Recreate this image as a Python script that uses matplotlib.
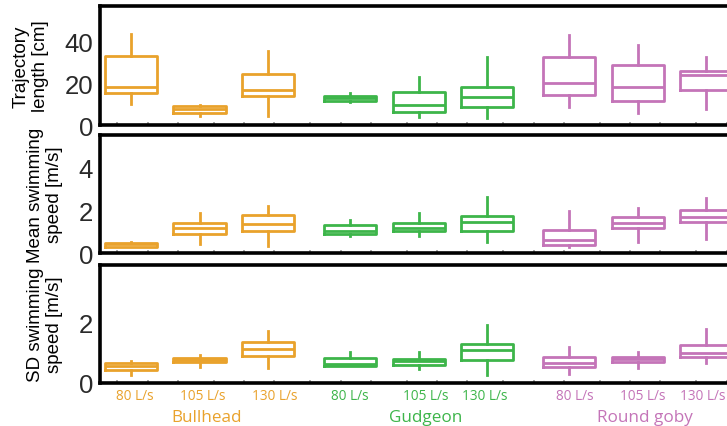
import matplotlib
matplotlib.use('Agg')
import matplotlib.pyplot as plt
import numpy as np

species = ['Bullhead', 'Gudgeon', 'Round goby']
flows = ['80 L/s', '105 L/s', '130 L/s']
colors = ['#E9A22C', '#3DB54A', '#C474B8']

# per box: [whisker low, q1, median, q3, whisker high]
# order: Bullhead 80/105/130, Gudgeon 80/105/130, Round goby 80/105/130
trajectory = [
    [10.0, 15.1, 18.4, 33.0, 43.7],
    [4.3, 5.9, 7.5, 9.2, 9.7],
    [4.1, 14.0, 16.7, 24.3, 35.4],
    [10.8, 11.6, 12.9, 14.0, 15.1],
    [3.8, 6.4, 9.8, 15.7, 23.2],
    [3.2, 8.4, 13.5, 18.4, 32.7],
    [8.7, 14.4, 20.2, 32.5, 42.9],
    [5.7, 11.6, 18.4, 28.9, 38.4],
    [7.6, 16.8, 24.0, 26.0, 32.7],
]
mean_speed = [
    [0.28, 0.30, 0.40, 0.49, 0.53],
    [0.41, 0.89, 1.19, 1.41, 1.88],
    [0.35, 1.05, 1.38, 1.79, 2.20],
    [0.82, 0.88, 1.05, 1.30, 1.57],
    [0.78, 1.05, 1.19, 1.41, 1.90],
    [0.50, 1.05, 1.46, 1.76, 2.62],
    [0.28, 0.36, 0.61, 1.10, 1.96],
    [0.52, 1.18, 1.41, 1.68, 2.12],
    [0.64, 1.44, 1.71, 2.04, 2.60],
]
sd_speed = [
    [0.27, 0.44, 0.56, 0.67, 0.74],
    [0.54, 0.69, 0.77, 0.84, 0.94],
    [0.50, 0.89, 1.12, 1.37, 1.72],
    [0.56, 0.58, 0.62, 0.82, 1.03],
    [0.46, 0.60, 0.72, 0.81, 1.02],
    [0.28, 0.78, 1.09, 1.29, 1.94],
    [0.31, 0.54, 0.66, 0.88, 1.19],
    [0.51, 0.69, 0.80, 0.88, 1.04],
    [0.66, 0.86, 1.01, 1.27, 1.81],
]

panels = [
    (trajectory, 'Trajectory\nlength [cm]', (0, 57), [0, 20, 40]),
    (mean_speed, 'Mean swimming\nspeed [m/s]', (0, 5.55), [0, 2, 4]),
    (sd_speed, 'SD swimming\nspeed [m/s]', (0, 3.93), [0, 2]),
]

group_step = 3.2
positions = [g * group_step + i for g in range(3) for i in range(3)]
box_colors = [colors[g] for g in range(3) for i in range(3)]
# the right side of the original figure is cropped away
xlim = (-0.4526, 8.70)

fig = plt.figure(figsize=(7.27, 4.27), dpi=100)
# axes boxes in figure fractions (left, bottom, width, height)
ax_rects = [
    (100 / 727, 1 - 126 / 427, 1 - 100 / 727, 119 / 427),
    (100 / 727, 1 - 254 / 427, 1 - 100 / 727, 118 / 427),
    (100 / 727, 1 - 384 / 427, 1 - 100 / 727, 118 / 427),
]

# faint little ticks along the bottom
minor = np.concatenate([np.array([-0.204, 0.241, 0.679]) + 1.409 * k
                        for k in range(7)])
minor = minor[minor < xlim[1]]

for (data, ylabel, ylim, yticks), rect in zip(panels, ax_rects):
    ax = fig.add_axes(rect)
    stats = [dict(whislo=d[0], q1=d[1], med=d[2], q3=d[3], whishi=d[4],
                  fliers=[]) for d in data]
    bp = ax.bxp(stats, positions=positions, widths=0.76, showcaps=False,
                showfliers=False, patch_artist=False)
    for k, c in enumerate(box_colors):
        bp['boxes'][k].set(color=c, linewidth=2)
        bp['medians'][k].set(color=c, linewidth=2)
        bp['whiskers'][2 * k].set(color=c, linewidth=2)
        bp['whiskers'][2 * k + 1].set(color=c, linewidth=2)

    ax.set_xticks(minor)
    ax.set_xticklabels([])
    ax.tick_params(axis='x', direction='in', length=2, width=1.2,
                   color='#999999')
    ax.set_xlim(*xlim)
    ax.set_ylim(*ylim)
    ax.set_yticks(yticks)
    ax.set_yticklabels([str(t) for t in yticks], fontsize=18.5,
                       family='Liberation Sans', color='#2a2a2a')
    ax.tick_params(axis='y', length=0, pad=5)
    ax.set_ylabel(ylabel, fontsize=13.5, family='Liberation Sans',
                  linespacing=1.15, labelpad=11)
    for side in ['top', 'bottom', 'left']:
        ax.spines[side].set_linewidth(2.6)
    ax.spines['right'].set_visible(False)

# bottom category labels (small nudges so they sit like the original)
label_nudge = [0.06, 0.04, 0.1, 0.0, 0.1, -0.03, 0.08, 0.07, -0.06]
ax = fig.axes[-1]
for k, pos in enumerate(positions):
    ax.text(pos + label_nudge[k], -0.11, flows[k % 3],
            transform=ax.get_xaxis_transform(), ha='center', va='center',
            fontsize=9.8, family='Open Sans', color=box_colors[k])
for g, name in enumerate(species):
    ax.text(positions[3 * g + 1] + 0.1, -0.285, name,
            transform=ax.get_xaxis_transform(), ha='center', va='center',
            fontsize=12.3, family='Open Sans', color=colors[g])

fig.savefig('out.png', dpi=100)
